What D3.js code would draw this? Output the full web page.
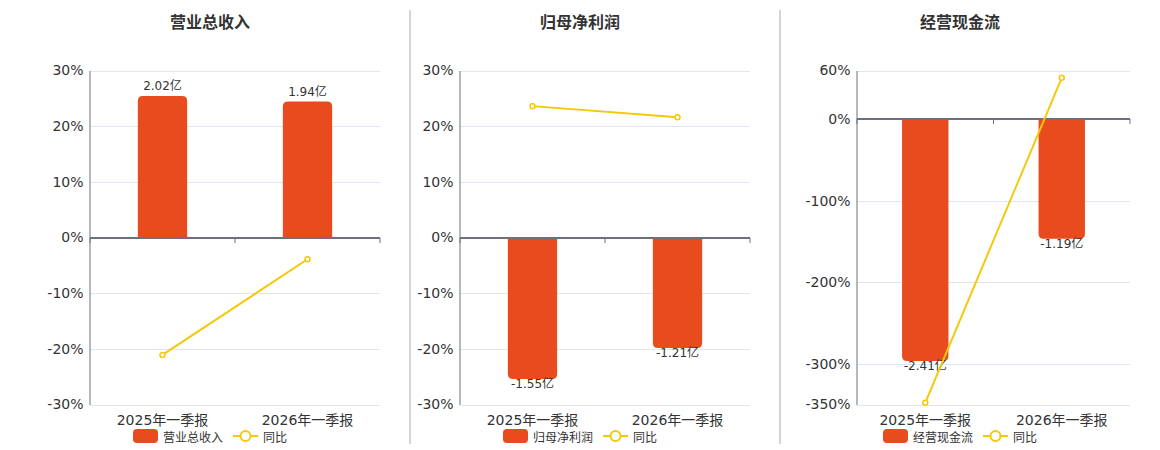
<!DOCTYPE html>
<html>
<head>
<meta charset="utf-8">
<script src="https://cdn.jsdelivr.net/npm/d3@7/dist/d3.min.js"></script>
<style>
  html, body { margin: 0; padding: 0; background: #fff; }
  svg { display: block; font-family: "DejaVu Sans", "Noto Sans CJK SC", sans-serif; }
</style>
</head>
<body>
<svg id="chart" width="1160" height="450"></svg>
<script>
// ---- data ----
const categories = ['2025年一季报', '2026年一季报'];

const revenue = [2.02, 1.94];        // 亿
const revenueYoy = [-21.1, -3.9];    // %
const netProfit = [-1.55, -1.21];
const netProfitYoy = [23.6, 21.6];
const cashFlow = [-2.41, -1.19];
const cashFlowYoy = [-348, 51];

const ticksSym30 = [30, 20, 10, 0, -10, -20, -30];
const ticksCash = [60, 0, -100, -200, -300, -350];

const BAR = '#e84c1e';
const LINE = '#f5c80a';
const INK = '#333';
const AXIS = '#6e7079';
const GRID = '#e0e6f1';

const panels = [
  { title: '营业总收入', name: '营业总收入', bars: revenue, yoy: revenueYoy, ticks: ticksSym30,
    x0: 90, x1: 380, center: 210 },
  { title: '归母净利润', name: '归母净利润', bars: netProfit, yoy: netProfitYoy, ticks: ticksSym30,
    x0: 460, x1: 750, center: 580 },
  { title: '经营现金流', name: '经营现金流', bars: cashFlow, yoy: cashFlowYoy, ticks: ticksCash,
    x0: 857, x1: 1130, center: 960 },
];

const TOP = 70.5, BOTTOM = 404.5;
const svg = d3.select('#chart');

// dividers
[410, 780].forEach((x) => {
  svg.append('line')
    .attr('x1', x).attr('x2', x).attr('y1', 10).attr('y2', 444)
    .attr('stroke', '#aaa').attr('stroke-width', 1);
});

panels.forEach(drawPanel);

function drawPanel(p) {
  const g = svg.append('g');
  const pMin = d3.min(p.ticks), pMax = d3.max(p.ticks);
  const y = d3.scaleLinear().domain([pMin, pMax]).range([BOTTOM, TOP]);

  // bar axis is hidden, zero aligned with the percent axis
  const k = (1.18 * d3.max(p.bars, (v) => Math.abs(v))) / Math.max(Math.abs(pMin), Math.abs(pMax));
  const yb = d3.scaleLinear().domain([pMin * k, pMax * k]).range([BOTTOM, TOP]);

  const x = d3.scaleBand().domain(categories).range([p.x0, p.x1]);
  const bw = x.bandwidth() * 0.34;

  // title
  g.append('text')
    .attr('x', p.center).attr('y', 22)
    .attr('text-anchor', 'middle').attr('dominant-baseline', 'central')
    .attr('font-size', 16).attr('font-weight', 'bold').attr('fill', INK)
    .text(p.title);

  // grid
  g.selectAll('line.grid')
    .data(p.ticks.filter((t) => t !== 0))
    .join('line')
    .attr('class', 'grid')
    .attr('x1', p.x0).attr('x2', p.x1)
    .attr('y1', (d) => Math.round(y(d)) + 0.5).attr('y2', (d) => Math.round(y(d)) + 0.5)
    .attr('stroke', GRID).attr('stroke-width', 1);

  // y axis
  const yAxis = g.append('g')
    .attr('transform', `translate(${p.x0 - 0.5},0)`)
    .call(d3.axisLeft(y).tickValues(p.ticks).tickSize(0).tickPadding(6).tickFormat((d) => d + '%'));
  yAxis.select('.domain').attr('stroke', AXIS);
  yAxis.selectAll('text')
    .attr('font-size', 14).attr('fill', INK)
    .attr('font-family', '"DejaVu Sans", sans-serif');

  // bars
  const r = 5;
  p.bars.forEach((v, i) => {
    const cx = x(categories[i]) + x.bandwidth() / 2;
    const y0 = yb(0), y1 = yb(v);
    const left = cx - bw / 2, right = cx + bw / 2;
    let path;
    if (v >= 0) {
      path = `M${left},${y0}V${y1 + r}Q${left},${y1} ${left + r},${y1}H${right - r}Q${right},${y1} ${right},${y1 + r}V${y0}Z`;
    } else {
      path = `M${left},${y0}V${y1 - r}Q${left},${y1} ${left + r},${y1}H${right - r}Q${right},${y1} ${right},${y1 - r}V${y0}Z`;
    }
    g.append('path').attr('d', path).attr('fill', BAR);

    g.append('text')
      .attr('x', cx)
      .attr('y', v >= 0 ? y1 - 10 : y1 + 5)
      .attr('text-anchor', 'middle').attr('dominant-baseline', 'central')
      .attr('font-size', 12).attr('fill', INK)
      .text(v.toFixed(2) + '亿');
  });

  // zero line + ticks
  const zy = Math.round(y(0));
  g.append('line')
    .attr('x1', p.x0).attr('x2', p.x1).attr('y1', zy).attr('y2', zy)
    .attr('stroke', AXIS).attr('stroke-width', 2);
  const bounds = categories.map((c) => x(c)).concat([p.x1]);
  g.selectAll('line.tk')
    .data(bounds)
    .join('line')
    .attr('class', 'tk')
    .attr('x1', (d) => d).attr('x2', (d) => d)
    .attr('y1', zy).attr('y2', zy + 5)
    .attr('stroke', AXIS).attr('stroke-width', 1);

  // category labels
  g.selectAll('text.cat')
    .data(categories)
    .join('text')
    .attr('class', 'cat')
    .attr('x', (d) => x(d) + x.bandwidth() / 2).attr('y', 420)
    .attr('text-anchor', 'middle').attr('dominant-baseline', 'central')
    .attr('font-size', 14).attr('fill', INK)
    .text((d) => d);

  // yoy line
  const pts = p.yoy.map((v, i) => [x(categories[i]) + x.bandwidth() / 2, y(v)]);
  g.append('path')
    .attr('d', d3.line()(pts))
    .attr('fill', 'none').attr('stroke', LINE).attr('stroke-width', 2);
  g.selectAll('circle.pt')
    .data(pts)
    .join('circle')
    .attr('class', 'pt')
    .attr('cx', (d) => d[0]).attr('cy', (d) => d[1]).attr('r', 2.5)
    .attr('fill', '#fff').attr('stroke', LINE).attr('stroke-width', 1.5);

  // legend
  const nameW = p.name.length * 12;
  const total = 25 + 5 + nameW + 10 + 25 + 5 + 24;
  let lx = p.center - total / 2;
  const ly = 436;
  const lg = g.append('g');
  lg.append('rect')
    .attr('x', lx).attr('y', ly - 7).attr('width', 25).attr('height', 14)
    .attr('rx', 4).attr('fill', BAR);
  lg.append('text')
    .attr('x', lx + 30).attr('y', ly)
    .attr('dominant-baseline', 'central')
    .attr('font-size', 12).attr('fill', INK)
    .attr('font-family', '"Noto Sans CJK SC", sans-serif')
    .text(p.name);
  lx += 30 + nameW + 10;
  lg.append('line')
    .attr('x1', lx).attr('x2', lx + 25).attr('y1', ly).attr('y2', ly)
    .attr('stroke', LINE).attr('stroke-width', 2);
  lg.append('circle')
    .attr('cx', lx + 12.5).attr('cy', ly).attr('r', 5)
    .attr('fill', '#fff').attr('stroke', LINE).attr('stroke-width', 2);
  lg.append('text')
    .attr('x', lx + 30).attr('y', ly)
    .attr('dominant-baseline', 'central')
    .attr('font-size', 12).attr('fill', INK)
    .attr('font-family', '"Noto Sans CJK SC", sans-serif')
    .text('同比');
}
</script>
</body>
</html>
